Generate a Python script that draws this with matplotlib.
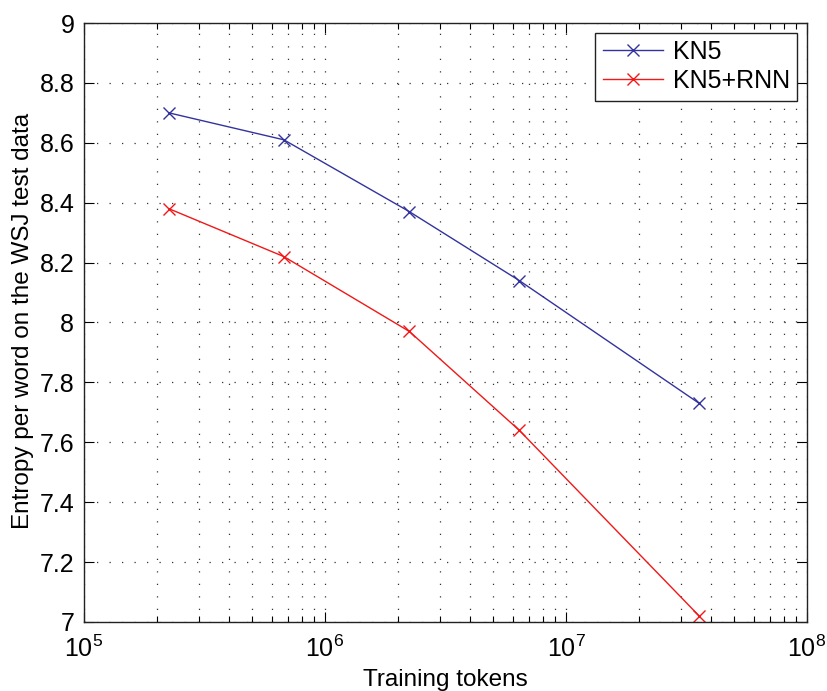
import matplotlib
matplotlib.use("Agg")
import matplotlib.pyplot as plt
from matplotlib.ticker import LogLocator

plt.rcParams['font.family'] = ['Liberation Sans', 'DejaVu Sans']
plt.rcParams['mathtext.fontset'] = 'custom'
plt.rcParams['mathtext.rm'] = 'Liberation Sans'
plt.rcParams['mathtext.it'] = 'Liberation Sans'
plt.rcParams['mathtext.bf'] = 'Liberation Sans'

tokens = [2.25e5, 6.75e5, 2.24e6, 6.4e6, 3.57e7]
kn5 = [8.70, 8.61, 8.37, 8.14, 7.73]
kn5_rnn = [8.38, 8.22, 7.97, 7.64, 7.02]
series_labels = ["KN5", "KN5+RNN"]
yticks = [7, 7.2, 7.4, 7.6, 7.8, 8, 8.2, 8.4, 8.6, 8.8, 9]
ytick_labels = ["7", "7.2", "7.4", "7.6", "7.8", "8", "8.2", "8.4", "8.6", "8.8", "9"]

fig = plt.figure(figsize=(8.27, 6.91), dpi=100)
ax = fig.add_axes([0.1016, 0.0999, 0.8742, 0.8668])

ax.plot(tokens, kn5, color='#33339e', marker='x', markersize=8, lw=1.0, mew=1.0, label=series_labels[0])
ax.plot(tokens, kn5_rnn, color='#f01818', marker='x', markersize=8, lw=1.0, mew=1.0, label=series_labels[1])

ax.set_xscale('log')
ax.set_xlim(1e5, 1e8)
ax.set_ylim(7, 9)
ax.set_yticks(yticks)
ax.set_yticklabels(ytick_labels)
ax.xaxis.set_major_locator(LogLocator(base=10, numticks=10))
ax.xaxis.set_minor_locator(LogLocator(base=10, subs=range(2, 10), numticks=20))

ax.grid(True, which='major', axis='both', linestyle=(0, (1, 9)), color='#333333', lw=0.9)
ax.grid(True, which='minor', axis='x', linestyle=(0, (1, 9)), color='#333333', lw=0.9)

ax.tick_params(which='both', direction='in', top=True, right=True, labelsize=18, width=0.8)
ax.tick_params(which='major', length=7, pad=7)
ax.tick_params(which='minor', length=4)
ax.tick_params(axis='x', which='major', pad=10)
for s in ax.spines.values():
    s.set_linewidth(1.0)
    s.set_color('#222222')

ax.set_xlabel("Training tokens", fontsize=17.5, labelpad=5)
ax.set_ylabel("Entropy per word on the WSJ test data", fontsize=17.5)
ax.yaxis.set_label_coords(-0.069, 0.503)

leg = ax.legend(loc='upper right', fontsize=18, fancybox=False, framealpha=1,
                edgecolor='#222222', borderpad=0.3, handlelength=2.4, handletextpad=0.4,
                labelspacing=0.2, borderaxespad=0.38)
leg.get_frame().set_linewidth(1.0)

fig.savefig("out.png", dpi=100)
